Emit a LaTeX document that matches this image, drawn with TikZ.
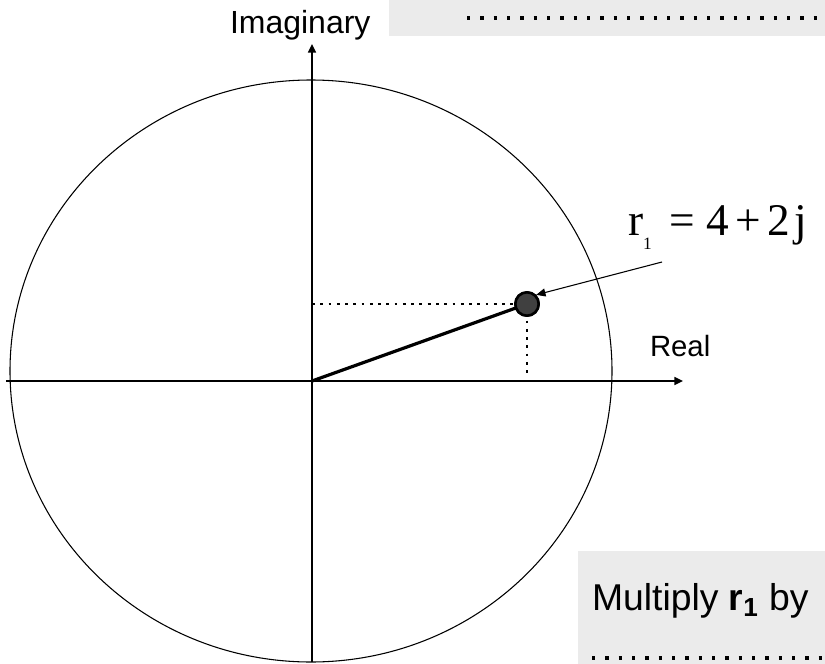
\documentclass[tikz,border=0pt]{standalone}
\usepackage{fontspec}
\setmainfont{Liberation Sans}
\newfontfamily\phasorSerif{Liberation Serif}
\usepackage{tikz}
\usetikzlibrary{arrows.meta,positioning}
\definecolor{phasorPanel}{HTML}{EBEBEB}
\definecolor{phasorDot}{HTML}{404040}
\tikzset{
  phasorPanel/.style={
    fill=phasorPanel,
    draw=none
  },
  phasorAxis/.style={
    -{Triangle[length=6.5pt,width=6pt]},
    line width=1.1pt
  },
  phasorPointer/.style={
    -{Triangle[length=7pt,width=6pt]},
    line width=0.8pt
  },
  phasorVector/.style={
    line width=2.4pt
  },
  phasorGuide/.style={
    line width=2.1pt,
    dash pattern=on 2.1pt off 4.1pt
  },
  phasorBlank/.style={
    line width=2.4pt,
    dash pattern=on 2.4pt off 7.6pt
  },
  phasorPoint/.style={
    circle,
    draw,
    fill=phasorDot,
    line width=1.9pt,
    minimum size=17.5pt,
    inner sep=0pt
  },
  phasorLabel/.style={
    anchor=base west,
    inner sep=0pt,
    outer sep=0pt
  }
}

\begin{document}
\begin{tikzpicture}[x=0.75pt, y=-0.75pt]
\useasboundingbox (0,0) rectangle (825,664);
\fill[phasorPanel] (389,0) rectangle (825,36);
\fill[phasorPanel] (578,551) rectangle (825,664);
\draw[phasorBlank] (467,18) -- (825,18);
\draw[phasorBlank] (592,658) -- (825,658);

\draw[line width=0.8pt] (311,371) ellipse [x radius=225.75pt, y radius=218.25pt];

\coordinate (origin) at (312,381);
\coordinate (reStart) at (6,381);
\coordinate (reEnd) at (683,381);
\coordinate (imStart) at (312,662);
\coordinate (imEnd) at (312,44);
\draw[phasorAxis] (reStart) -- (reEnd);
\draw[phasorAxis] (imStart) -- (imEnd);

\node[phasorLabel, font=\fontsize{24pt}{28pt}\selectfont] (imLabel) at (230,33) {Imaginary};
\node[phasorLabel, font=\fontsize{22pt}{26pt}\selectfont] (reLabel) at (650,356) {Real};

\coordinate (imFoot) at (312,304);
\coordinate (reFoot) at (527,377);
\node[phasorPoint] (rOne) at (527,304) {};
\draw[phasorGuide] (imFoot) -- (rOne.center);
\draw[phasorGuide] (rOne.center) -- (reFoot);
\draw[phasorVector] (origin) -- (rOne.center);
\node[phasorPoint] at (rOne) {};

\node[phasorLabel, font=\phasorSerif\fontsize{34pt}{38pt}\selectfont] (rOneLabel) at (628,235)
  {r\raisebox{-11pt}{\fontsize{13pt}{13pt}\selectfont 1}\hspace{13pt}=\hspace{9pt}4\hspace{4.5pt}+\hspace{5pt}2\hspace{3pt}j};
\coordinate (pointerTail) at (662,262);
\draw[phasorPointer] (pointerTail) -- (rOne.north east);

\node[phasorLabel, font=\fontsize{28pt}{32pt}\selectfont] (multiplyText) at (592,610)
  {Multiply \textbf{r\textsubscript{1}} by};
\end{tikzpicture}
\end{document}
